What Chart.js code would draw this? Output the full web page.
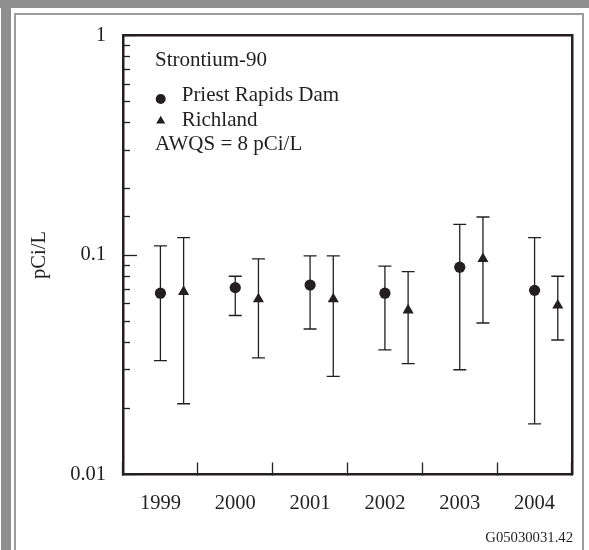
<!DOCTYPE html>
<html>
<head>
<meta charset="utf-8">
<title>Strontium-90 in Columbia River water</title>
<script src="https://cdn.jsdelivr.net/npm/chart.js@4/dist/chart.umd.min.js"></script>
<style>
  html, body { margin: 0; padding: 0; background: #fff; }
  #wrap { position: relative; width: 589px; height: 550px; overflow: hidden; background: #fff; }
  .frame { position: absolute; }
  .band-top  { left: 0; top: 0; width: 589px; height: 8px; background: #8e8e8e; }
  .band-left { left: 1px; top: 0; width: 10px; height: 550px; background: #8e8e8e; }
  .line-top  { left: 14px; top: 13px; width: 570px; height: 2px; background: #9c9c9c; }
  .line-left { left: 14px; top: 13px; width: 2px; height: 537px; background: #9c9c9c; }
  .line-right{ left: 582px; top: 13px; width: 2px; height: 537px; background: #9c9c9c; }
  canvas { position: absolute; left: 0; top: 0; }
</style>
</head>
<body>
<div id="wrap">
  <div class="frame band-top"></div>
  <div class="frame band-left"></div>
  <div class="frame line-top"></div>
  <div class="frame line-left"></div>
  <div class="frame line-right"></div>
  <canvas id="chart" width="589" height="550"></canvas>
</div>
<script>
// Sampling years (category labels)
const years = ['1999', '2000', '2001', '2002', '2003', '2004'];

// Priest Rapids Dam: mean and min/max range, pCi/L
const priestValue = [0.067, 0.071, 0.073, 0.067, 0.088, 0.069];
const priestLow   = [0.033, 0.053, 0.046, 0.037, 0.030, 0.017];
const priestHigh  = [0.11, 0.080, 0.099, 0.089, 0.138, 0.12];

// Richland: mean and min/max range, pCi/L
const richlandValue = [0.068, 0.063, 0.063, 0.056, 0.096, 0.059];
const richlandLow   = [0.021, 0.034, 0.028, 0.032, 0.049, 0.041];
const richlandHigh  = [0.12, 0.096, 0.099, 0.084, 0.149, 0.080];

// Labelled decades on the log axis
const yTickLabels = ['0.01', '0.1', '1'];

const seriesNames = ['Priest Rapids Dam', 'Richland'];
const legendTitle = 'Strontium-90';
const legendNote = 'AWQS = 8 pCi/L';
const footerId = 'G05030031.42';

const INK = '#231f20';
const SERIF = '"Liberation Serif", "Times New Roman", Times, serif';
const RICHLAND_SHIFT = 0.31;   // side-by-side placement within a year slot

function points(values, lows, highs, shift) {
  return values.map((v, i) => ({ x: i + shift, y: v, low: lows[i], high: highs[i] }));
}

function isDecade(v) {
  const l = Math.log10(v);
  return Math.abs(l - Math.round(l)) < 1e-6;
}

// Vertical min/max whiskers with caps, drawn behind the markers
const errorBars = {
  id: 'errorBars',
  beforeDatasetsDraw(chart, args, opts) {
    const { ctx } = chart;
    const yScale = chart.scales.y;
    ctx.save();
    ctx.strokeStyle = opts.color;
    ctx.lineWidth = opts.lineWidth;
    chart.data.datasets.forEach((ds, di) => {
      const meta = chart.getDatasetMeta(di);
      meta.data.forEach((pt, i) => {
        const raw = ds.data[i];
        const yHi = yScale.getPixelForValue(raw.high);
        const yLo = yScale.getPixelForValue(raw.low);
        const x = pt.x, h = opts.capHalfWidth;
        ctx.beginPath();
        ctx.moveTo(x, yHi); ctx.lineTo(x, yLo);
        ctx.moveTo(x - h, yHi); ctx.lineTo(x + h, yHi);
        ctx.moveTo(x - h, yLo); ctx.lineTo(x + h, yLo);
        ctx.stroke();
      });
    });
    ctx.restore();
  }
};

// Key block inside the plot plus the figure id under it
const keyBlock = {
  id: 'keyBlock',
  afterDraw(chart) {
    const { ctx, chartArea } = chart;
    const L = chartArea.left, T = chartArea.top;
    ctx.save();
    ctx.fillStyle = INK;
    ctx.textBaseline = 'alphabetic';
    ctx.textAlign = 'left';
    ctx.font = '21px ' + SERIF;
    ctx.fillText(legendTitle, L + 32, T + 30.2);

    // circle marker
    ctx.beginPath();
    ctx.arc(L + 37.7, T + 63.5, 5, 0, Math.PI * 2);
    ctx.fill();
    ctx.fillText(seriesNames[0], L + 58.7, T + 65.5);

    // triangle marker
    const cx = L + 37.7, cy = T + 85.4, r = 5.2;
    ctx.beginPath();
    ctx.moveTo(cx, cy - r);
    ctx.lineTo(cx + r * Math.sin(2 * Math.PI / 3), cy + r / 2);
    ctx.lineTo(cx - r * Math.sin(2 * Math.PI / 3), cy + r / 2);
    ctx.closePath();
    ctx.fill();
    ctx.fillText(seriesNames[1], L + 58.7, T + 90.5);

    ctx.fillText(legendNote, L + 32, T + 114.5);

    ctx.textAlign = 'right';
    ctx.font = '14.7px ' + SERIF;
    ctx.fillText(footerId, chartArea.right + 1, 541.7);
    ctx.restore();
  }
};

const borderOpts = { display: true, color: INK, width: 2.5 };

new Chart(document.getElementById('chart'), {
  type: 'scatter',
  data: {
    datasets: [
      {
        label: seriesNames[0],
        data: points(priestValue, priestLow, priestHigh, 0),
        pointStyle: 'circle',
        pointRadius: 5.6,
        backgroundColor: INK,
        borderColor: INK,
        borderWidth: 0,
        xAxisID: 'x',
        yAxisID: 'y'
      },
      {
        label: seriesNames[1],
        data: points(richlandValue, richlandLow, richlandHigh, RICHLAND_SHIFT),
        pointStyle: 'triangle',
        pointRadius: 6.4,
        backgroundColor: INK,
        borderColor: INK,
        borderWidth: 0,
        xAxisID: 'x',
        yAxisID: 'y'
      }
    ]
  },
  options: {
    responsive: false,
    animation: false,
    events: [],
    layout: { padding: { left: 0, top: 35.5, right: 17, bottom: 0 } },
    plugins: {
      legend: { display: false },
      tooltip: { enabled: false },
      errorBars: { color: INK, lineWidth: 1.3, capHalfWidth: 6.5 }
    },
    scales: {
      x: { type: 'linear', min: -0.5, max: 5.5, display: false },
      xl: {
        type: 'category',
        labels: years,
        position: 'bottom',
        offset: true,
        grid: {
          offset: true,
          drawOnChartArea: false,
          drawTicks: true,
          tickLength: -12,
          tickColor: INK,
          tickWidth: 1.3
        },
        border: borderOpts,
        ticks: {
          color: INK,
          font: { family: SERIF, size: 20.5 },
          padding: 29,
          maxRotation: 0,
          autoSkip: false
        },
        afterFit(s) { s.height = 75.5; }
      },
      y: {
        type: 'logarithmic',
        position: 'left',
        min: 0.01,
        max: 1,
        grid: {
          drawOnChartArea: false,
          drawTicks: true,
          tickLength: -14,
          tickColor: INK,
          tickWidth: 1.3,
          tickBorderDash: (c) => (c.tick && isDecade(c.tick.value)) ? [] : [7, 7],
          tickBorderDashOffset: (c) => (c.tick && isDecade(c.tick.value)) ? 0 : 7
        },
        border: borderOpts,
        ticks: {
          autoSkip: false,
          color: INK,
          font: { family: SERIF, size: 20.5 },
          padding: 31,
          callback(v) {
            const hit = yTickLabels.find(t => Math.abs(parseFloat(t) - v) < 1e-9);
            return hit === undefined ? '' : hit;
          }
        },
        title: {
          display: true,
          text: 'pCi/L',
          color: INK,
          font: { family: SERIF, size: 20.5 },
          padding: { top: 27.7, bottom: 0 }
        },
        afterFit(s) {
          s.width = 123;
          // labels sit inside the fixed page margins, no extra room needed
          s.paddingTop = 0;
          s.paddingBottom = 0;
        }
      },
      x2: {
        type: 'linear',
        position: 'top',
        grid: { drawOnChartArea: false, drawTicks: false },
        ticks: { display: false },
        border: borderOpts,
        afterFit(s) { s.height = 0; }
      },
      y2: {
        type: 'linear',
        position: 'right',
        grid: { drawOnChartArea: false, drawTicks: false },
        ticks: { display: false },
        border: borderOpts,
        afterFit(s) { s.width = 0; }
      }
    }
  },
  plugins: [errorBars, keyBlock]
});
</script>
</body>
</html>
